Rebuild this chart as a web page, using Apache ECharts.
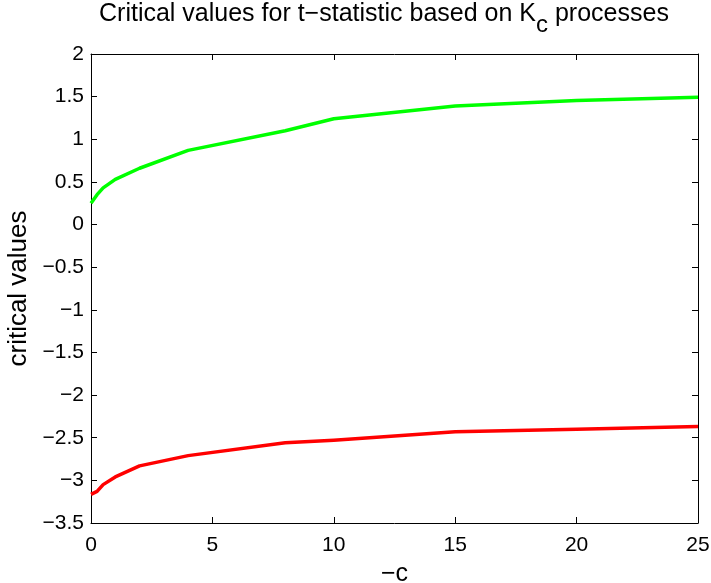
<!DOCTYPE html>
<html>
<head>
<meta charset="utf-8">
<script src="https://cdn.jsdelivr.net/npm/echarts@6/dist/echarts.min.js"></script>
<style>html,body{margin:0;padding:0;background:#fff}#c{width:711px;height:583px}</style>
</head>
<body>
<div id="c"></div>
<script>
const cValues = [0, 0.25, 0.5, 1, 2, 4, 8, 10, 15, 20, 25];
const upperCritical = [0.25, 0.35, 0.43, 0.53, 0.66, 0.87, 1.10, 1.24, 1.39, 1.455, 1.494];
const lowerCritical = [-3.164, -3.13, -3.05, -2.96, -2.83, -2.71, -2.56, -2.53, -2.43, -2.40, -2.367];
const titleMain = 'Critical values for t\u2212statistic based on K';
const titleSub = 'c';
const titleTail = ' processes';
const xName = '\u2212c';
const yName = 'critical values';

const FONT = 'Liberation Sans, Arial, Helvetica, sans-serif';
const fmt = v => (v < 0 ? '\u2212' : '') + String(Math.abs(Math.round(v * 10) / 10));

const pairs = (xs, ys) => xs.map((x, i) => [x, ys[i]]);

const chart = echarts.init(document.getElementById('c'), null, {renderer: 'canvas'});
const axisCommon = () => ({
  axisLine: {show: true, onZero: false, lineStyle: {color: '#000', width: 1}},
  axisTick: {show: true, inside: true, length: 6, lineStyle: {color: '#000', width: 1}},
  splitLine: {show: false}
});
chart.setOption({
  animation: false,
  backgroundColor: '#fff',
  grid: {left: 91, right: 13, top: 54, bottom: 60, containLabel: false, outerBoundsMode: 'none'},
  xAxis: [
    Object.assign({
      type: 'value', min: 0, max: 25, interval: 5, position: 'bottom',
      name: xName, nameLocation: 'middle', nameGap: 39,
      nameTextStyle: {fontFamily: FONT, fontSize: 25, color: '#000'},
      axisLabel: {fontFamily: FONT, fontSize: 21, color: '#000', margin: 12, formatter: fmt}
    }, axisCommon()),
    Object.assign({
      type: 'value', min: 0, max: 25, interval: 5, position: 'top',
      axisLabel: {show: false}
    }, axisCommon())
  ],
  yAxis: [
    Object.assign({
      type: 'value', min: -3.5, max: 2, interval: 0.5, position: 'left',
      name: yName, nameLocation: 'middle', nameGap: 58, nameRotate: 90,
      nameTextStyle: {fontFamily: FONT, fontSize: 26, color: '#000'},
      axisLabel: {fontFamily: FONT, fontSize: 21, color: '#000', margin: 7, formatter: fmt}
    }, axisCommon()),
    Object.assign({
      type: 'value', min: -3.5, max: 2, interval: 0.5, position: 'right',
      axisLabel: {show: false}
    }, axisCommon())
  ],
  graphic: [{
    type: 'text', left: 99, top: 2,
    style: {
      text: '{m|' + titleMain + '}{s|' + titleSub + '}{m|' + titleTail + '}',
      rich: {
        m: {fontFamily: FONT, fontSize: 25, color: '#000'},
        s: {fontFamily: FONT, fontSize: 24, color: '#000', padding: [22, 0, 0, 0]}
      }
    }
  }],
  series: [
    {type: 'line', data: pairs(cValues, upperCritical), showSymbol: false, symbol: 'none',
     lineStyle: {color: '#00ff00', width: 3.5, join: 'round'}, itemStyle: {color: '#00ff00'}},
    {type: 'line', data: pairs(cValues, lowerCritical), showSymbol: false, symbol: 'none',
     lineStyle: {color: '#ff0000', width: 3.5, join: 'round'}, itemStyle: {color: '#ff0000'}}
  ]
});
</script>
</body>
</html>
